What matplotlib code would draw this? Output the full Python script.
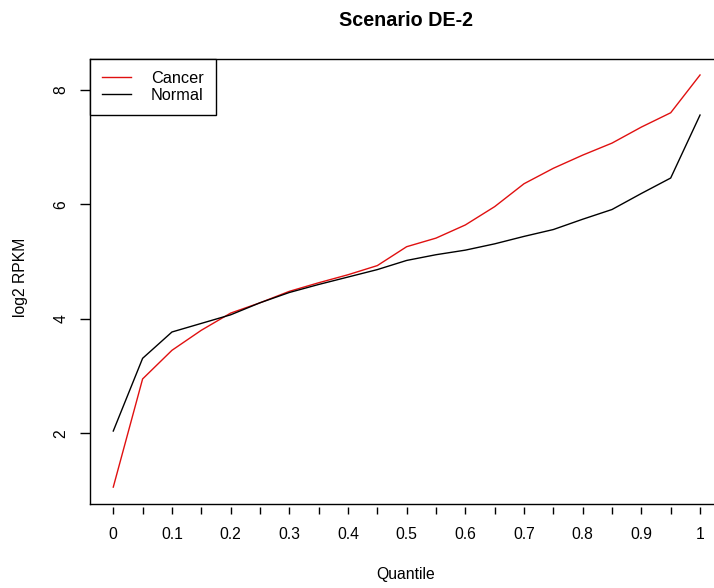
import numpy as np
import matplotlib.pyplot as plt
from matplotlib.ticker import MultipleLocator

plt.rcParams['font.family'] = ['Liberation Sans', 'DejaVu Sans']

# quantile levels and log2 RPKM at each level
quantiles = [0.0, 0.05, 0.1, 0.15, 0.2, 0.25, 0.3, 0.35, 0.4, 0.45, 0.5,
             0.55, 0.6, 0.65, 0.7, 0.75, 0.8, 0.85, 0.9, 0.95, 1.0]
cancer = [1.06, 2.95, 3.45, 3.80, 4.10, 4.28, 4.48, 4.63, 4.77, 4.93, 5.26,
          5.41, 5.64, 5.96, 6.36, 6.63, 6.86, 7.07, 7.35, 7.60, 8.26]
normal = [2.04, 3.31, 3.77, 3.92, 4.07, 4.28, 4.46, 4.60, 4.73, 4.86, 5.02,
          5.12, 5.20, 5.31, 5.44, 5.56, 5.74, 5.91, 6.19, 6.46, 7.56]
x_labels = ['0', '0.1', '0.2', '0.3', '0.4', '0.5', '0.6', '0.7', '0.8', '0.9', '1']

W, H = 714, 588
FS = 11.3
fig = plt.figure(figsize=(W / 100, H / 100), dpi=100)
ax = fig.add_axes([89.8 / W, 84.4 / H, (723.5 - 89.8) / W, (529.5 - 84.4) / H])

ax.plot(quantiles, cancer, color='#e01010', lw=1.0, label='Cancer')
ax.plot(quantiles, normal, color='black', lw=1.0, label='Normal')

# R-style 4% padding around the data
lo = min(min(cancer), min(normal))
hi = max(max(cancer), max(normal))
ax.set_xlim(-0.04, 1.04)
ax.set_ylim(lo - 0.04 * (hi - lo), hi + 0.04 * (hi - lo))

for s in ax.spines.values():
    s.set_linewidth(1.0)

# x axis drawn a little below the box, without its own line
ax.set_xticks([])
sec = ax.secondary_xaxis(-3 / 445)
sec.spines['bottom'].set_visible(False)
sec.set_xticks(np.arange(0, 1.01, 0.1), x_labels)
sec.xaxis.set_minor_locator(MultipleLocator(0.05))
sec.tick_params(which='both', length=5.2, width=1.0, pad=9.5, labelsize=FS)

ax.set_yticks([2, 4, 6, 8])
ax.tick_params(axis='y', length=7.2, width=1.0, pad=8, labelsize=FS)
for lab in ax.get_yticklabels():
    lab.set_rotation(90)
    lab.set_va('center')

fig.text(406 / W, 1 - 574 / H, 'Quantile', ha='center', va='center', fontsize=FS)
fig.text(21 / W, 1 - 277 / H, 'log2 RPKM', ha='center', va='center',
         rotation=90, fontsize=FS)
fig.text(406 / W, 1 - 20 / H, 'Scenario DE-2', ha='center', va='center',
         fontsize=14.2, fontweight='bold')

leg = ax.legend(loc='upper left', borderaxespad=0, fancybox=False,
                framealpha=1, edgecolor='black', fontsize=11.7,
                handlelength=1.8, handletextpad=1.2, labelspacing=0.15,
                borderpad=0.75)
leg.get_frame().set_linewidth(1.0)

fig.savefig('out.png', dpi=100)
